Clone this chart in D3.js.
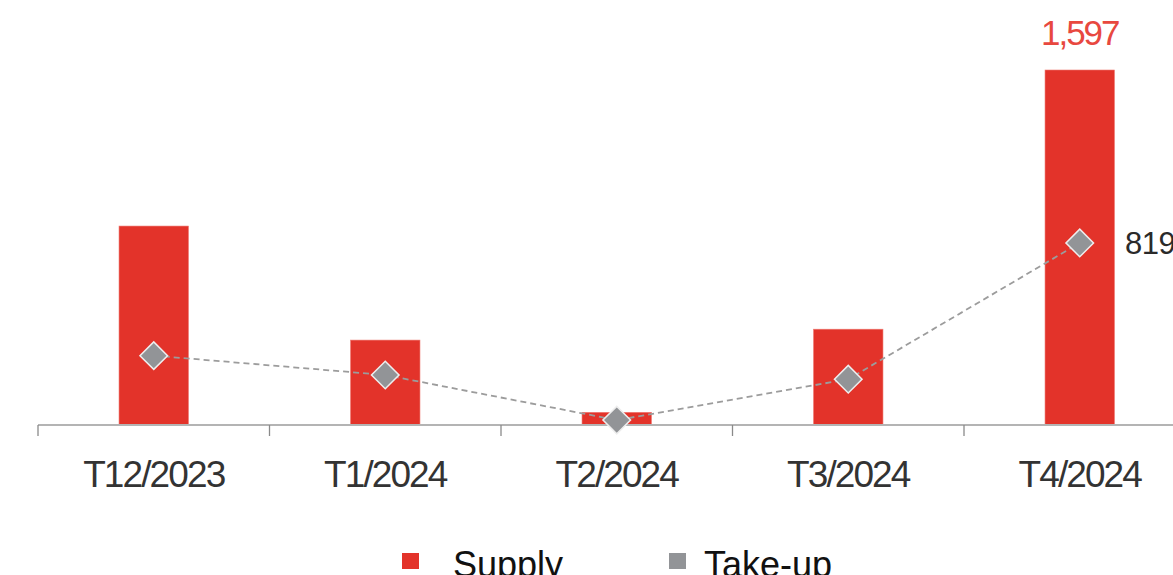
<!DOCTYPE html>
<html>
<head>
<meta charset="utf-8">
<script src="https://cdn.jsdelivr.net/npm/d3@7"></script>
<style>
  html, body { margin: 0; padding: 0; background: #ffffff; overflow: hidden; }
  svg { display: block; font-family: "Liberation Sans", Arial, sans-serif; }
</style>
</head>
<body>
<svg id="chart" width="1173" height="575"></svg>
<script>
const categories = ["T12/2023", "T1/2024", "T2/2024", "T3/2024", "T4/2024"];
const supply = [895, 382, 57, 431, 1597];
const takeUp = [312, 225, 22, 206, 819];
const seriesNames = ["Supply", "Take-up"];

const svg = d3.select("#chart");
const baseY = 425;

const x = d3.scaleBand()
  .domain(categories)
  .range([38, 1195.5])
  .paddingInner(0.7)
  .paddingOuter(0.35);

const y = d3.scaleLinear()
  .domain([0, 1597])
  .range([baseY, 70]);

const red = "#e3332a";
const gray = "#929497";

// bars
svg.append("g").selectAll("rect")
  .data(categories.map((c, i) => ({ c, v: supply[i] })))
  .join("rect")
  .attr("x", d => x(d.c))
  .attr("y", d => y(d.v))
  .attr("width", x.bandwidth())
  .attr("height", d => baseY - y(d.v))
  .attr("fill", red)
  .attr("stroke", "#ee7a72")
  .attr("stroke-width", 0.6);

// axis
const axisG = svg.append("g").attr("transform", `translate(0,${baseY})`);
axisG.append("line")
  .attr("x1", 38).attr("x2", 1173)
  .attr("y1", 0).attr("y2", 0)
  .attr("stroke", "#b4b4b4").attr("stroke-width", 2.2);
const step = x.step();
const tickXs = categories.map(c => x(c) + x.bandwidth() / 2 - step / 2);
axisG.selectAll("line.tick")
  .data(tickXs)
  .join("line")
  .attr("class", "tick")
  .attr("x1", d => d).attr("x2", d => d)
  .attr("y1", 0).attr("y2", 11)
  .attr("stroke", "#8a8a8a").attr("stroke-width", 1.3);
axisG.selectAll("text")
  .data(categories)
  .join("text")
  .attr("x", d => x(d) + x.bandwidth() / 2)
  .attr("y", 62)
  .attr("text-anchor", "middle")
  .attr("font-size", 37)
  .attr("letter-spacing", "-1.9px")
  .attr("fill", "#333333")
  .text(d => d);

// take-up line
const pts = categories.map((c, i) => [x(c) + x.bandwidth() / 2, y(takeUp[i])]);
svg.append("path")
  .attr("d", d3.line()(pts))
  .attr("fill", "none")
  .attr("stroke", "#9c9c9c")
  .attr("stroke-width", 1.8)
  .attr("stroke-dasharray", "6,4");

svg.append("g").selectAll("path")
  .data(pts)
  .join("path")
  .attr("d", d3.symbol().type(d3.symbolSquare).size(380))
  .attr("transform", d => `translate(${d[0]},${d[1]}) rotate(45)`)
  .attr("fill", gray)
  .attr("stroke", "#eeeeee")
  .attr("stroke-width", 1.5);

// value labels (last period)
const last = categories.length - 1;
svg.append("text")
  .attr("x", x(categories[last]) + x.bandwidth() / 2)
  .attr("y", 45)
  .attr("text-anchor", "middle")
  .attr("font-size", 35)
  .attr("letter-spacing", "-2px")
  .attr("fill", "#e8483f")
  .text(d3.format(",")(supply[last]));

svg.append("text")
  .attr("x", 1125)
  .attr("y", y(takeUp[last]) + 11)
  .attr("font-size", 31)
  .attr("letter-spacing", "-0.5px")
  .attr("fill", "#2a2a2a")
  .text(d3.format(",")(takeUp[last]));

// legend
const legend = svg.append("g");
const legendItems = [
  { name: seriesNames[0], color: red, sx: 402, tx: 453 },
  { name: seriesNames[1], color: gray, sx: 669, tx: 704 }
];
legend.selectAll("rect")
  .data(legendItems)
  .join("rect")
  .attr("x", d => d.sx).attr("y", 553)
  .attr("width", 17).attr("height", 16)
  .attr("fill", d => d.color);
legend.selectAll("text")
  .data(legendItems)
  .join("text")
  .attr("x", d => d.tx).attr("y", 577)
  .attr("font-size", 36)
  .attr("fill", "#111")
  .text(d => d.name);
</script>
</body>
</html>
